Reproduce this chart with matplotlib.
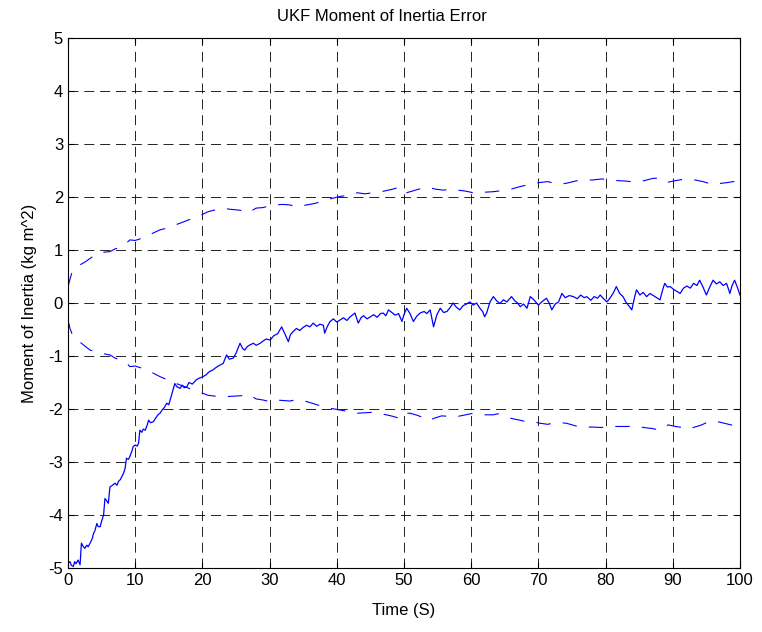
import numpy as np
import matplotlib.pyplot as plt

plt.rcParams['font.family'] = ['Liberation Sans', 'DejaVu Sans']
plt.rcParams['axes.unicode_minus'] = False

# inertia estimate error (solid)
t_err = [0.0, 0.3, 0.5, 0.8, 1.0, 1.2, 1.5, 1.8, 2.0, 2.2, 2.5, 2.8, 3.0, 3.3, 3.6, 3.8,
         4.0, 4.3, 4.5, 4.8, 5.0, 5.3, 5.5, 5.7, 6.0, 6.25, 6.5, 6.8, 7.0, 7.3, 7.5, 7.8,
         8.0, 8.3, 8.5, 8.7, 9.0, 9.2, 9.5, 9.7, 10.0, 10.3, 10.5, 10.7, 11.0, 11.2, 11.5,
         11.8, 12.0, 12.3, 12.7, 13.0, 13.4, 13.7, 14.0, 14.3, 14.7, 15.0, 15.2, 15.5, 15.9,
         16.2, 16.7, 17.0, 17.3, 17.7, 18.0, 18.5, 19.1, 19.5, 20.1, 20.5, 21.0, 21.6, 22.0,
         22.5, 23.1, 23.6, 24.0, 24.6, 25.0, 25.6, 26.0, 26.3, 26.7, 27.1, 27.6, 28.0, 28.6,
         29.0, 29.5, 30.1, 30.6, 31.2, 31.8, 32.2, 32.8, 33.1, 33.5, 34.0, 34.5, 35.0, 35.5,
         36.0, 36.5, 37.0, 37.5, 38.0, 38.2, 38.6, 39.0, 39.5, 40.0, 40.5, 41.0, 41.5, 42.0,
         42.7, 43.2, 43.6, 44.0, 44.5, 45.0, 45.5, 46.0, 46.5, 46.9, 47.3, 47.7, 48.2, 48.7,
         49.2, 49.7, 50.0, 50.4, 50.9, 51.4, 51.9, 52.4, 53.0, 53.4, 53.9, 54.4, 54.9, 55.4,
         55.9, 56.4, 56.9, 57.3, 57.8, 58.3, 58.8, 59.3, 59.8, 60.3, 60.8, 61.3, 61.7, 62.0,
         62.3, 62.8, 63.3, 63.8, 64.3, 64.8, 65.3, 66.0, 66.5, 66.9, 67.3, 67.8, 68.3, 68.8,
         69.4, 70.0, 70.6, 71.2, 71.6, 72.0, 72.5, 73.0, 73.5, 74.0, 74.6, 75.2, 75.8, 76.3,
         76.8, 77.2, 77.8, 78.3, 78.8, 79.2, 79.7, 80.2, 80.7, 81.2, 81.6, 82.1, 82.6, 83.0,
         83.5, 83.9, 84.3, 84.6, 85.1, 85.6, 86.1, 86.6, 87.1, 87.6, 88.1, 88.5, 88.8, 89.2,
         89.6, 90.1, 90.6, 91.1, 91.6, 92.1, 92.6, 93.1, 93.6, 94.0, 94.5, 95.0, 95.5, 96.0,
         96.5, 97.0, 97.5, 98.0, 98.5, 98.8, 99.2, 99.6, 100.0]
err = [-4.91, -4.88, -4.95, -4.97, -4.88, -4.92, -4.85, -4.94, -4.53, -4.58, -4.63, -4.57,
       -4.60, -4.53, -4.45, -4.35, -4.30, -4.16, -4.22, -4.22, -4.12, -4.00, -3.69, -3.72,
       -3.78, -3.47, -3.45, -3.42, -3.40, -3.44, -3.37, -3.33, -3.28, -3.20, -3.12, -2.93,
       -2.95, -2.90, -2.80, -2.71, -2.68, -2.70, -2.65, -2.40, -2.44, -2.38, -2.40, -2.30,
       -2.21, -2.26, -2.24, -2.18, -2.11, -2.08, -2.02, -1.98, -1.89, -1.92, -1.83, -1.70,
       -1.52, -1.58, -1.61, -1.55, -1.60, -1.58, -1.50, -1.53, -1.45, -1.42, -1.39, -1.36,
       -1.30, -1.26, -1.22, -1.18, -1.14, -0.98, -1.06, -1.04, -0.95, -0.76, -0.86, -0.89,
       -0.82, -0.79, -0.76, -0.80, -0.76, -0.72, -0.68, -0.70, -0.62, -0.58, -0.45, -0.56,
       -0.73, -0.60, -0.54, -0.48, -0.52, -0.46, -0.42, -0.45, -0.38, -0.44, -0.40, -0.42,
       -0.57, -0.44, -0.35, -0.30, -0.36, -0.32, -0.28, -0.33, -0.26, -0.19, -0.38, -0.28,
       -0.24, -0.30, -0.26, -0.22, -0.27, -0.20, -0.19, -0.24, -0.13, -0.18, -0.23, -0.20,
       -0.35, -0.22, -0.10, -0.20, -0.35, -0.25, -0.19, -0.16, -0.20, -0.13, -0.45, -0.22,
       -0.10, -0.18, -0.16, -0.08, 0.00, -0.08, -0.13, -0.05, -0.02, 0.02, -0.04, 0.00,
       -0.10, -0.16, -0.26, -0.19, 0.02, 0.12, 0.04, -0.01, 0.06, 0.02, 0.12, 0.04, 0.00,
       -0.07, -0.02, -0.10, 0.12, 0.05, -0.04, 0.03, 0.09, 0.00, -0.13, -0.02, 0.02, 0.18,
       0.10, 0.14, 0.12, 0.08, 0.15, 0.10, 0.12, 0.05, 0.12, 0.09, 0.15, 0.08, 0.02, 0.10,
       0.20, 0.31, 0.18, 0.12, 0.02, -0.06, -0.13, 0.10, 0.25, 0.15, 0.20, 0.12, 0.18, 0.14,
       0.10, 0.06, 0.25, 0.37, 0.30, 0.31, 0.26, 0.22, 0.18, 0.28, 0.32, 0.28, 0.37, 0.33,
       0.43, 0.30, 0.15, 0.30, 0.43, 0.36, 0.40, 0.33, 0.37, 0.18, 0.32, 0.43, 0.30, 0.15]

# +/- sigma bounds (dashed)
t_up = [0, 0.3, 0.6, 1.0, 1.5, 2.5, 3.5, 4.5, 5.5, 6.25, 7.0, 8.0, 8.7, 9.2, 10.0, 11.0,
        12.0, 13.7, 15.0, 15.9, 17.0, 18.2, 19.5, 20.8, 22.0, 23.0, 24.0, 25.6, 26.8, 28.0,
        29.0, 30.5, 32.0, 33.0, 34.2, 35.5, 36.8, 38.0, 39.2, 40.5, 42.0, 43.0, 44.2, 45.4,
        47.0, 48.4, 49.4, 50.4, 52.0, 53.4, 54.6, 55.8, 57.0, 58.0, 59.2, 60.3, 62.0, 63.3,
        64.6, 66.0, 67.4, 68.8, 70.0, 71.4, 72.3, 73.2, 74.2, 75.5, 76.7, 78.0, 79.4, 80.5,
        81.6, 83.0, 84.6, 85.8, 87.0, 88.3, 89.3, 90.5, 91.8, 93.0, 94.5, 95.3, 96.0, 96.7,
        98.0, 99.0, 100.0]
upper = [0.30, 0.45, 0.58, 0.62, 0.70, 0.77, 0.86, 0.94, 0.96, 0.97, 1.02, 1.06, 1.13, 1.19,
         1.18, 1.22, 1.28, 1.38, 1.42, 1.47, 1.52, 1.58, 1.64, 1.72, 1.76, 1.79, 1.77, 1.75,
         1.70, 1.79, 1.80, 1.85, 1.86, 1.85, 1.81, 1.85, 1.88, 1.93, 1.97, 2.01, 2.04, 2.08,
         2.06, 2.08, 2.11, 2.15, 2.19, 2.08, 2.14, 2.19, 2.15, 2.13, 2.14, 2.13, 2.11, 2.08,
         2.09, 2.10, 2.12, 2.15, 2.20, 2.24, 2.27, 2.29, 2.26, 2.24, 2.26, 2.30, 2.33, 2.32,
         2.34, 2.33, 2.31, 2.30, 2.28, 2.31, 2.35, 2.36, 2.28, 2.31, 2.34, 2.33, 2.29, 2.26,
         2.23, 2.25, 2.27, 2.29, 2.29]

t_lo = [0, 0.3, 0.6, 1.0, 1.8, 2.5, 3.3, 4.5, 5.4, 6.25, 7.0, 8.0, 8.7, 9.2, 10.0, 11.0,
        12.3, 13.7, 14.8, 15.9, 17.2, 18.4, 19.6, 20.8, 22.0, 23.0, 24.4, 25.8, 26.8, 28.0,
        29.0, 30.0, 30.8, 32.0, 33.0, 34.2, 35.5, 36.8, 38.0, 39.2, 40.5, 41.8, 43.0, 44.4,
        45.7, 47.0, 48.4, 49.4, 50.1, 50.9, 52.0, 52.8, 53.6, 54.6, 55.6, 56.8, 58.0, 59.2,
        60.3, 61.8, 63.3, 64.0, 65.0, 66.0, 67.2, 68.2, 69.2, 70.3, 71.4, 72.7, 74.2, 75.3,
        76.4, 78.0, 79.4, 80.4, 81.9, 83.2, 84.4, 85.7, 87.0, 88.1, 89.3, 90.4, 91.5, 92.3,
        93.3, 94.3, 95.5, 96.7, 98.0, 99.0, 100.0]
lower = [-0.32, -0.48, -0.58, -0.64, -0.74, -0.81, -0.89, -0.92, -0.96, -0.98, -1.04, -1.08,
         -1.13, -1.20, -1.19, -1.23, -1.30, -1.39, -1.45, -1.51, -1.57, -1.63, -1.68, -1.74,
         -1.76, -1.77, -1.76, -1.75, -1.72, -1.81, -1.83, -1.86, -1.83, -1.84, -1.85, -1.82,
         -1.86, -1.91, -1.96, -1.99, -2.02, -2.05, -2.08, -2.07, -2.06, -2.10, -2.14, -2.18,
         -2.08, -2.08, -2.12, -2.16, -2.22, -2.17, -2.13, -2.14, -2.14, -2.11, -2.08, -2.11,
         -2.11, -2.09, -2.14, -2.18, -2.21, -2.24, -2.24, -2.27, -2.29, -2.25, -2.27, -2.31,
         -2.35, -2.34, -2.35, -2.33, -2.33, -2.33, -2.32, -2.35, -2.37, -2.40, -2.30, -2.33,
         -2.35, -2.38, -2.34, -2.30, -2.23, -2.24, -2.28, -2.31, -2.31]

fig = plt.figure(figsize=(7.62, 6.32), dpi=100)
ax = fig.add_axes([0.0892, 0.1013, 0.8819, 0.8386])

ax.plot(t_err, err, color='b', linewidth=0.9)
ax.plot(t_up, upper, color='b', linewidth=0.8, dashes=(13, 11))
ax.plot(t_lo, lower, color='b', linewidth=0.8, dashes=(13, 11))

ax.set_xlim(0, 100)
ax.set_ylim(-5, 5)
ax.set_xticks(np.arange(0, 101, 10))
ax.set_yticks(np.arange(-5, 6, 1))
ax.grid(True, color='k', linestyle=(0, (12, 7)), linewidth=0.6)
ax.tick_params(direction='in', top=True, right=True, length=4, labelsize=12, colors='k')
for s in ax.spines.values():
    s.set_linewidth(0.8)

ax.set_title("UKF Moment of Inertia Error", fontsize=12, pad=12, x=0.467)
ax.set_xlabel("Time (S)", fontsize=12, labelpad=11)
ax.set_ylabel("Moment of Inertia (kg m^2)", fontsize=12, labelpad=8)

plt.savefig("out.png", dpi=100)
